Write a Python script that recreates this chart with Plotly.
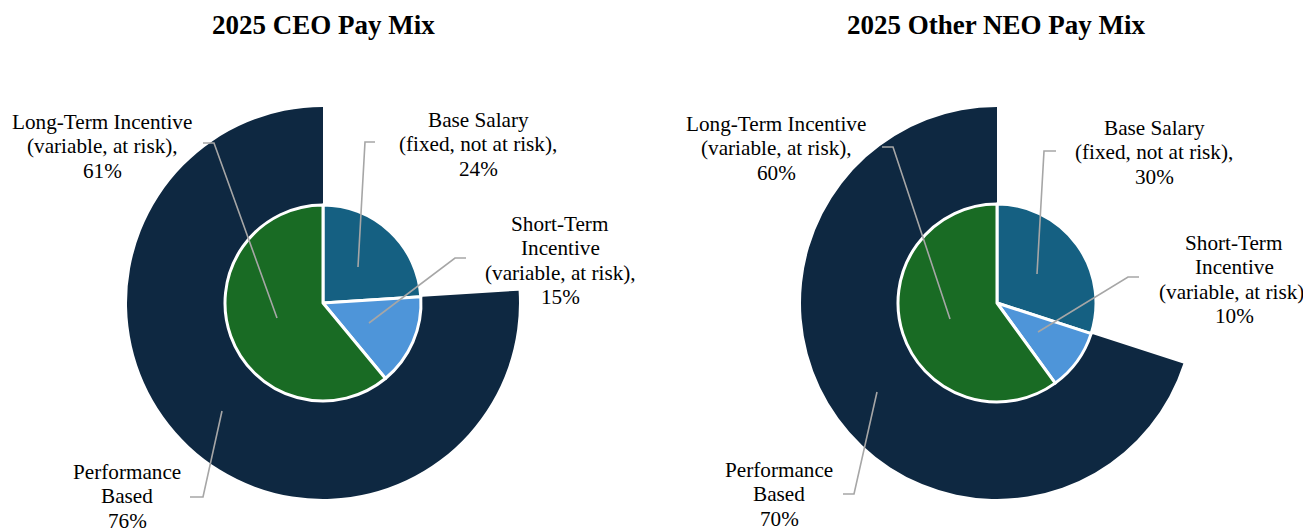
import plotly.graph_objects as go

W, H = 1311, 529
OFF = 8  # page body margin of the html page

# ---------------- data ----------------
categories = ["Base Salary", "Short-Term Incentive", "Long-Term Incentive"]
ceo_values = [24, 15, 61]
neo_values = [30, 10, 60]
ceo_perf_based = 76
neo_perf_based = 70

titles = ["2025 CEO Pay Mix", "2025 Other NEO Pay Mix"]

label_lines = {
    "Base Salary": ["Base Salary", "(fixed, not at risk),"],
    "Short-Term Incentive": ["Short-Term", "Incentive", "(variable, at risk),"],
    "Long-Term Incentive": ["Long-Term Incentive", "(variable, at risk),"],
    "Performance Based": ["Performance", "Based"],
}

# ---------------- styles ----------------
C_NAVY = "#0E2841"
C_BASE = "#156082"
C_STI = "#4E95D9"
C_LTI = "#196B24"
C_LEAD = "#A6A6A6"
slice_colors = [C_BASE, C_STI, C_LTI]
FONT = "Liberation Serif, Times New Roman, serif"


def px(x):
    return (x - OFF) / W


def py(y):
    return 1 - (y - OFF) / H


# chart layout in screen pixels: center, outer radius, inner radius
charts = [
    dict(cx=323, cy=303, ro=196, ri=98, tx=323),
    dict(cx=997, cy=303, ro=196, ri=99, tx=996),
]

# label placements (screen pixel): (center x, first line y, leader path)
placements = [
    {
        "Long-Term Incentive": (102, 122, [(203, 143), (214, 143), (277, 318)]),
        "Base Salary": (478, 120, [(375, 142), (365, 142), (358, 267)]),
        "Short-Term Incentive": (560, 224, [(466, 258), (455, 258), (369, 323)]),
        "Performance Based": (127, 472, [(190, 497), (203, 497), (222, 411)]),
    },
    {
        "Long-Term Incentive": (776, 124, [(882, 147), (893, 147), (950, 319)]),
        "Base Salary": (1154, 128, [(1056, 151), (1044, 151), (1037, 274)]),
        "Short-Term Incentive": (1234, 243, [(1139, 277), (1128, 277), (1038, 332)]),
        "Performance Based": (779, 470, [(843, 494), (854, 494), (877, 392)]),
    },
]
LINE_STEP = 24.3

fig = go.Figure()
annotations = []
shapes = []

for i, (vals, perf) in enumerate([(ceo_values, ceo_perf_based), (neo_values, neo_perf_based)]):
    c = charts[i]
    fixed = 100 - perf
    # outer ring (performance based portion)
    fig.add_trace(go.Pie(
        values=[fixed, perf],
        labels=["Fixed", "Performance Based"],
        marker=dict(colors=["rgba(0,0,0,0)", C_NAVY], line=dict(width=0)),
        sort=False, direction="clockwise", rotation=0,
        textinfo="none", hoverinfo="skip", showlegend=False,
        domain=dict(x=[px(c["cx"] - c["ro"]), px(c["cx"] + c["ro"])],
                    y=[py(c["cy"] + c["ro"]), py(c["cy"] - c["ro"])]),
    ))
    # inner pie
    fig.add_trace(go.Pie(
        values=vals,
        labels=categories,
        marker=dict(colors=slice_colors, line=dict(color="white", width=3)),
        sort=False, direction="clockwise", rotation=0,
        textinfo="none", hoverinfo="label+percent", showlegend=False,
        domain=dict(x=[px(c["cx"] - c["ri"]), px(c["cx"] + c["ri"])],
                    y=[py(c["cy"] + c["ri"]), py(c["cy"] - c["ri"])]),
    ))

    # title
    annotations.append(dict(
        text=f"<b>{titles[i]}</b>", x=px(c["tx"]), y=py(25), xref="paper", yref="paper",
        xanchor="center", yanchor="middle", showarrow=False,
        font=dict(family=FONT, size=27, color="black"),
    ))

    pct = dict(zip(categories, vals))
    pct["Performance Based"] = perf
    for key, (lx, ly0, path) in placements[i].items():
        lines = label_lines[key] + [f"{pct[key]}%"]
        for k, t in enumerate(lines):
            annotations.append(dict(
                text=t, x=px(lx), y=py(ly0 + k * LINE_STEP), xref="paper", yref="paper",
                xanchor="center", yanchor="middle", showarrow=False,
                font=dict(family=FONT, size=21.2, color="black"),
            ))
        d = "M " + " L ".join(f"{px(x):.5f} {py(y):.5f}" for x, y in path)
        shapes.append(dict(type="path", path=d, xref="paper", yref="paper",
                           line=dict(color=C_LEAD, width=1.6)))

fig.update_layout(
    width=W, height=H,
    margin=dict(l=0, r=0, t=0, b=0),
    paper_bgcolor="white", plot_bgcolor="white",
    annotations=annotations, shapes=shapes,
)

fig.write_html("out.html")
